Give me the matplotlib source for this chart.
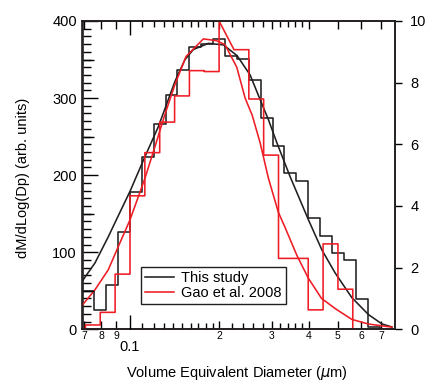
import matplotlib.pyplot as plt
import numpy as np
from matplotlib.ticker import NullFormatter, NullLocator

plt.rcParams['font.family'] = ['Liberation Sans', 'DejaVu Sans']

# This study: binned mass distribution (left axis)
black_edges = [0.0692, 0.0759, 0.0832, 0.0912, 0.1000, 0.1096, 0.1202, 0.1318, 0.1445,
               0.1585, 0.1738, 0.1905, 0.2089, 0.2291, 0.2512, 0.2754, 0.3020, 0.3311,
               0.3631, 0.3981, 0.4365, 0.4786, 0.5248, 0.5754, 0.6310, 0.6918]
black_vals = [50, 25, 57, 126, 178, 224, 266, 304, 336, 366, 370, 377, 354, 351, 324,
              274, 238, 203, 192, 145, 121, 99, 90, 39, 3]

# This study: fitted curve
black_fit_d = [0.0692, 0.0762, 0.0845, 0.0902, 0.100, 0.1123, 0.1246, 0.1322, 0.1418,
               0.1532, 0.1634, 0.1836, 0.2063, 0.2294, 0.2537, 0.2742, 0.2924, 0.3122,
               0.3460, 0.3988, 0.4425, 0.4906, 0.5585, 0.6354, 0.7047, 0.7616]
black_fit_v = [63, 86, 120, 143, 179, 224, 263, 290, 322, 350, 363, 371, 369, 355, 330,
               298, 272, 242, 198, 142, 103, 73, 41, 19, 7, 3]

# Gao et al. 2008: binned distribution (right axis)
red_edges = [0.0708, 0.0794, 0.0891, 0.1000, 0.1122, 0.1259, 0.1413, 0.1585, 0.1778,
             0.1995, 0.2239, 0.2512, 0.2818, 0.3162, 0.3548, 0.3981, 0.4467, 0.5012, 0.5623]
red_vals = [0.14, 0.55, 1.79, 4.33, 5.73, 6.72, 7.57, 8.39, 8.36, 9.07, 9.07, 7.47,
            5.65, 2.3, 2.3, 0.63, 2.77, 1.30]
red_peak_bin = 9
red_peak_top = 10.0

# Gao et al. 2008: fitted curve
red_fit_d = [0.0692, 0.0762, 0.0845, 0.0913, 0.100, 0.1123, 0.1214, 0.1309, 0.1418,
             0.1544, 0.1766, 0.1959, 0.2089, 0.2288, 0.2441, 0.2577, 0.2742, 0.2924,
             0.3157, 0.3328, 0.3645, 0.3983, 0.4415, 0.4944, 0.5585, 0.6354, 0.7616]
red_fit_v = [0.79, 1.28, 1.93, 2.68, 3.55, 4.9, 5.93, 6.95, 7.95, 8.85, 9.42, 9.36,
             9.23, 8.5, 7.5, 6.95, 6.05, 4.9, 3.8, 3.3, 2.4, 1.66, 1.0, 0.65, 0.32,
             0.17, 0.07]

xlabels_pos = [0.07, 0.08, 0.09, 0.2, 0.3, 0.4, 0.5, 0.6, 0.7]
xlabels_txt = ['7', '8', '9', '2', '3', '4', '5', '6', '7']
xminor_pos = [0.11, 0.12, 0.13, 0.14, 0.15, 0.16, 0.17, 0.18, 0.19,
              0.22, 0.24, 0.26, 0.28, 0.32, 0.34, 0.36, 0.38]

BLACK = '#231f20'
RED = '#ee1c24'


def steps(edges, vals):
    xs = [edges[0]]
    ys = [0]
    for i, v in enumerate(vals):
        xs += [edges[i], edges[i + 1]]
        ys += [v, v]
    xs.append(edges[-1])
    ys.append(0)
    return xs, ys


fig = plt.figure(figsize=(4.28, 3.81), dpi=100)
rect = [82.5 / 428, 1 - 329.3 / 381, 312.5 / 428, 308.3 / 381]
ax = fig.add_axes(rect)
ax2 = ax.twinx()

bx, by = steps(black_edges, black_vals)
rx, ry = steps(red_edges, red_vals)
ry[1 + 2 * red_peak_bin] = red_peak_top

ax.plot(bx, by, color=BLACK, lw=1.15)
ax.plot(black_fit_d, black_fit_v, color=BLACK, lw=1.15)
ax2.plot(rx, ry, color=RED, lw=1.15)
ax2.plot(red_fit_d, red_fit_v, color=RED, lw=1.15)

ax.set_xscale('log')
ax.set_xlim(0.0692, 0.78)
ax.set_ylim(0, 400)
ax2.set_ylim(0, 10)

ax.set_xticks(xlabels_pos)
ax.set_xticklabels(xlabels_txt)
ax.set_xticks(xminor_pos, minor=True)
ax.xaxis.set_minor_formatter(NullFormatter())
ax.tick_params(axis='x', which='major', direction='in', length=6, top=True,
               labelsize=7.5, pad=1.5, width=1)
ax.tick_params(axis='x', which='minor', direction='in', length=4, top=True, width=1)

ax.set_yticks([0, 100, 200, 300, 400])
ax.set_yticks(np.arange(0, 401, 10), minor=True)
ax.tick_params(axis='y', which='major', direction='in', length=11, labelsize=10.5,
               pad=4, width=1)
ax.tick_params(axis='y', which='minor', direction='in', length=6, width=1)

ax2.set_yticks([0, 2, 4, 6, 8, 10])
ax2.tick_params(axis='y', direction='out', length=5, labelsize=10.5, pad=6, width=1)

# extra axes for the long 0.1 tick and the medium y ticks
ax3 = fig.add_axes(rect, frameon=False)
ax3.set_xscale('log')
ax3.set_xlim(0.0692, 0.78)
ax3.set_ylim(0, 400)
ax3.set_xticks([0.1])
ax3.set_xticklabels(['0.1'])
ax3.xaxis.set_minor_locator(NullLocator())
ax3.xaxis.set_minor_formatter(NullFormatter())
ax3.set_yticks([50, 150, 250, 350])
ax3.set_yticklabels([])
ax3.tick_params(axis='x', direction='in', length=10, top=True, labelsize=10.5, pad=7.5,
                width=1)
ax3.tick_params(axis='y', direction='in', length=8, width=1)
ax3.patch.set_visible(False)

for a in (ax, ax2):
    for s in a.spines.values():
        s.set_linewidth(1.2)
        s.set_color(BLACK)

h1, = ax.plot([], [], color=BLACK, lw=1.15)
h2, = ax.plot([], [], color=RED, lw=1.15)
leg = ax3.legend([h1, h2], ['This study', 'Gao et al. 2008'], loc='lower left',
                 bbox_to_anchor=(0.187, 0.081), borderaxespad=0, fontsize=10.5,
                 fancybox=False, edgecolor=BLACK, framealpha=1, handlelength=2.0,
                 handletextpad=0.45, borderpad=0.3, labelspacing=0.05)
leg.get_frame().set_linewidth(1.0)

fig.text(236.7 / 428, 1 - 373 / 381, r'Volume Equivalent Diameter ($\mu$m)',
         ha='center', va='center', fontsize=10.5)
fig.text(23 / 428, 1 - 178 / 381, 'dM/dLog(Dp) (arb. units)', rotation=90,
         ha='center', va='center', fontsize=10.5)

fig.savefig('out.png', dpi=100)
